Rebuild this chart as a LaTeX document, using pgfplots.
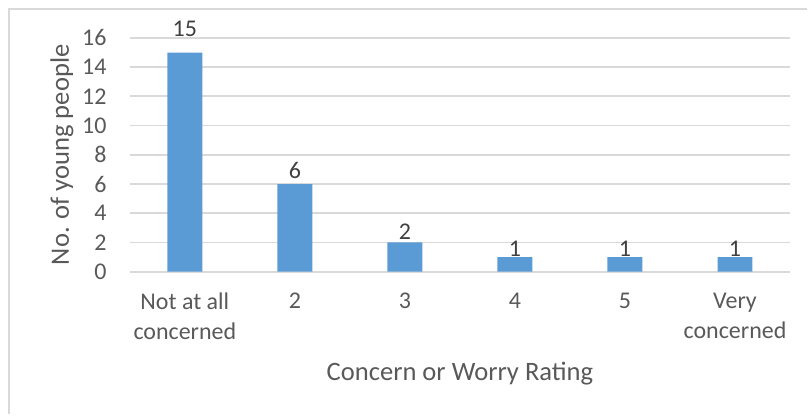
\documentclass[border=0pt]{standalone}
\usepackage{pgfplots}
\pgfplotsset{compat=1.18}
\usepackage{fontspec}
\setmainfont{Carlito}
\definecolor{barblue}{HTML}{5B9BD5}
\definecolor{gridgray}{HTML}{D9D9D9}
\definecolor{textgray}{HTML}{595959}
\definecolor{labelgray}{HTML}{404040}
\begin{document}
\begin{tikzpicture}
\path (0,0) rectangle (404pt,207.5pt);
\draw[gridgray, line width=1pt] (4.5pt,0) -- (4.5pt,203pt) -- (404pt,203pt);
\begin{axis}[
  at={(65pt,71.5pt)}, anchor=south west,
  scale only axis, width=330.5pt, height=117pt,
  xmin=-0.5, xmax=5.5, ymin=0, ymax=16,
  ytick={0,2,...,16},
  xtick={0,1,2,3,4,5},
  xticklabels={{Not at all\\concerned},2,3,4,5,{Very\\concerned}},
  /pgf/number format/assume math mode=true,
  axis line style={draw=none},
  tick style={draw=none},
  ymajorgrids,
  grid style={gridgray, line width=0.9pt},
  xticklabel style={align=center, font=\fontsize{12}{15}\selectfont, text=textgray, anchor=north, inner sep=0pt, yshift=-10.5pt},
  yticklabel style={font=\fontsize{12}{14.5}\selectfont, text=textgray, anchor=east, inner sep=0pt, xshift=-11.5pt},
  xlabel={Concern or Worry Rating},
  ylabel={No. of young people},
  xlabel style={at={(axis description cs:0.5,-0.435)}, anchor=center, font=\fontsize{13.3}{16}\selectfont, text=textgray},
  ylabel style={at={(axis description cs:-0.1029,0.5)}, anchor=center, font=\fontsize{13.3}{16}\selectfont, text=textgray},
  clip=false,
]
\addplot[ybar, bar width=17.5pt, fill=barblue, draw=none] coordinates {(0,15) (1,6) (2,2) (3,1) (4,1) (5,1)};
\addplot[draw=none, mark=none, point meta=explicit symbolic,
  nodes near coords,
  every node near coord/.append style={anchor=center, inner sep=0pt, font=\fontsize{12}{14.5}\selectfont, text=labelgray}]
  coordinates {(0,16.63)[15] (1,6.95)[6] (2,2.74)[2] (3,1.59)[1] (4,1.59)[1] (5,1.59)[1]};
\end{axis}
\end{tikzpicture}
\end{document}
